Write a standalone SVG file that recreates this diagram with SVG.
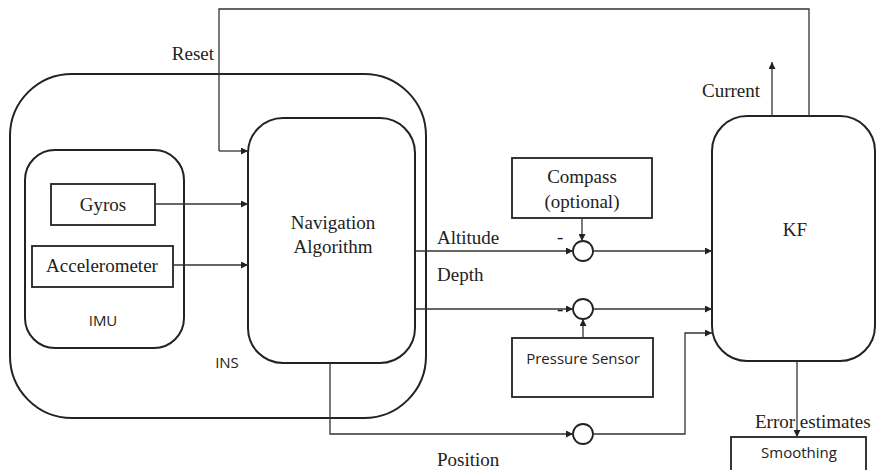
<svg xmlns="http://www.w3.org/2000/svg" width="877" height="470" viewBox="0 0 877 470">
<defs>
<marker id="ah" viewBox="0 0 10 10" refX="10" refY="5" markerWidth="7" markerHeight="7" orient="auto" markerUnits="userSpaceOnUse"><path d="M0,0 L10,5 L0,10 z" fill="#222"/></marker>
</defs>
<style>
.box{fill:none;stroke:#222;stroke-width:2}
.rect{fill:none;stroke:#222;stroke-width:1.8}
.c{fill:none;stroke:#333;stroke-width:1.3}
.ca{fill:none;stroke:#333;stroke-width:1.3;marker-end:url(#ah)}
.sum{fill:#fff;stroke:#222;stroke-width:1.8}
.s{font-family:"Liberation Serif","Times New Roman",serif;font-size:19px;fill:#222}
.n{font-family:"Open Sans","Noto Sans",sans-serif;font-size:15px;fill:#222}
</style>
<g id="ins"><rect class="box" x="10" y="74" width="416" height="344" rx="62"/><text class="n" x="227" y="368" text-anchor="middle">INS</text></g>
<g id="imu"><rect class="box" x="25" y="150" width="159" height="198" rx="30"/><text class="n" x="103" y="326" text-anchor="middle">IMU</text></g>
<g id="gyros"><rect class="rect" x="51" y="184" width="104" height="41"/><text class="s" x="103" y="211" text-anchor="middle">Gyros</text></g>
<g id="accel"><rect class="rect" x="32" y="246" width="141" height="41"/><text class="s" x="102" y="272" text-anchor="middle">Accelerometer</text></g>
<g id="nav"><rect class="box" x="248" y="118" width="167" height="245" rx="35"/><text class="s" x="333" y="229" text-anchor="middle">Navigation</text><text class="s" x="333" y="253" text-anchor="middle">Algorithm</text></g>
<g id="compass"><rect class="rect" x="512" y="158" width="140" height="60"/><text class="s" x="582" y="183" text-anchor="middle">Compass</text><text class="s" x="582" y="208" text-anchor="middle">(optional)</text></g>
<g id="pressure"><rect class="rect" x="512" y="338" width="141" height="59"/><text class="n" x="583" y="364" text-anchor="middle">Pressure Sensor</text></g>
<g id="kf"><rect class="box" x="712" y="116" width="163" height="245" rx="35"/><text class="s" x="795" y="236" text-anchor="middle">KF</text></g>
<g id="smoothing"><rect class="rect" x="731" y="437" width="135" height="40"/><text class="n" x="799" y="458" text-anchor="middle">Smoothing</text></g>
<g id="sum1"><circle class="sum" cx="583" cy="251" r="10"/></g>
<g id="sum2"><circle class="sum" cx="583" cy="309" r="10"/></g>
<g id="sum3"><circle class="sum" cx="583" cy="434" r="10"/></g>
<g id="connectors">
<path class="c" d="M809,116 V9 H219 V151"/>
<path class="ca" d="M219,151 H248"/>
<path class="ca" d="M155,204 H248"/>
<path class="ca" d="M173,265 H248"/>
<path class="ca" d="M415,251 H573"/>
<path class="ca" d="M593,251 H712"/>
<path class="ca" d="M415,309 H573"/>
<path class="ca" d="M593,309 H712"/>
<path class="ca" d="M582,218 V241"/>
<path class="ca" d="M583,338 V319"/>
<path class="ca" d="M330,363 V434 H573"/>
<path class="ca" d="M593,434 H685 V333 H712"/>
<path class="ca" d="M772,116 V62"/>
<path class="ca" d="M797,361 V437"/>
</g>
<g id="labels">
<text class="s" x="214" y="60" text-anchor="end">Reset</text>
<text class="s" x="760" y="97" text-anchor="end">Current</text>
<text class="s" x="437" y="244">Altitude</text>
<text class="s" x="437" y="281">Depth</text>
<text class="s" x="557" y="243">-</text>
<text class="s" x="557" y="315">-</text>
<text class="s" x="437" y="466">Position</text>
<text class="s" x="755" y="428">Error estimates</text>
</g>
</svg>
